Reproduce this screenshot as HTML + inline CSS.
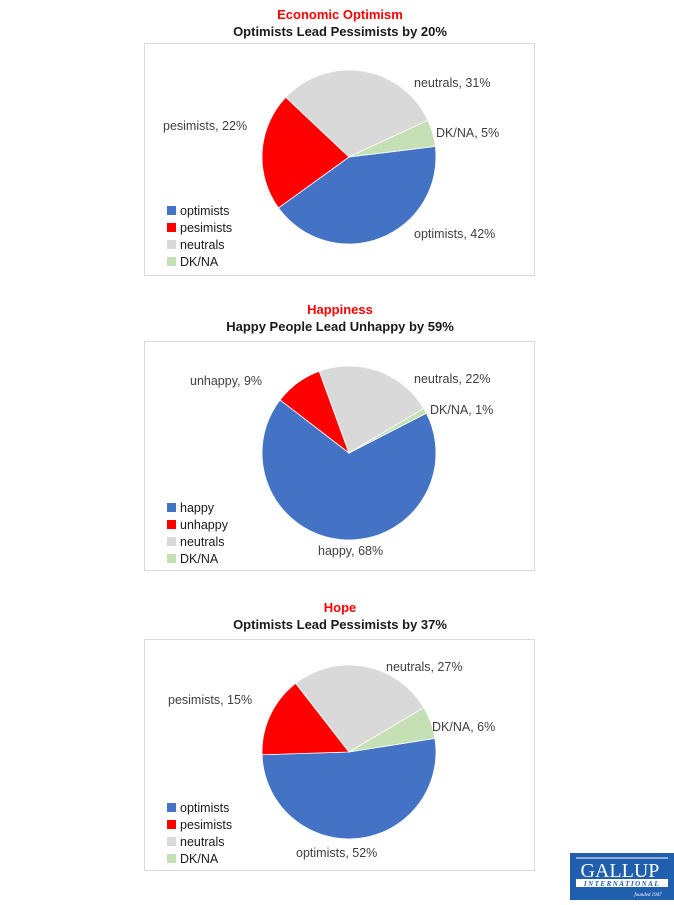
<!DOCTYPE html>
<html><head><meta charset="utf-8"><style>
body{margin:0;background:#fff;width:674px;height:900px;overflow:hidden}
svg text{font-family:"Liberation Sans",sans-serif}
</style></head><body>
<svg id="s" width="674" height="900" xmlns="http://www.w3.org/2000/svg">
<g font-size="13" font-weight="bold" text-anchor="middle">
<text x="340" y="19" fill="#ff0000">Economic Optimism</text>
<text x="340" y="36" fill="#1a1a1a">Optimists Lead Pessimists by 20%</text>
<text x="340" y="314" fill="#ff0000">Happiness</text>
<text x="340" y="331" fill="#1a1a1a">Happy People Lead Unhappy by 59%</text>
<text x="340" y="612" fill="#ff0000">Hope</text>
<text x="340" y="629" fill="#1a1a1a">Optimists Lead Pessimists by 37%</text>
</g>
<rect x="144.5" y="43.5" width="390" height="232" fill="none" stroke="#d9d9d9"/>
<rect x="144.5" y="341.5" width="390" height="229" fill="none" stroke="#d9d9d9"/>
<rect x="144.5" y="639.5" width="390" height="231" fill="none" stroke="#d9d9d9"/>
<g id="pies"></g>
<g font-size="12.5" fill="#404040">
<text x="414" y="87">neutrals, 31%</text>
<text x="163" y="130">pesimists, 22%</text>
<text x="436" y="137">DK/NA, 5%</text>
<text x="414" y="238">optimists, 42%</text>
<text x="414" y="383">neutrals, 22%</text>
<text x="190" y="385">unhappy, 9%</text>
<text x="430" y="414">DK/NA, 1%</text>
<text x="318" y="555">happy, 68%</text>
<text x="386" y="671">neutrals, 27%</text>
<text x="168" y="704">pesimists, 15%</text>
<text x="432" y="731">DK/NA, 6%</text>
<text x="296" y="857">optimists, 52%</text>
</g>
<g font-size="12.5" fill="#1a1a1a">
<rect x="167" y="206" width="9" height="9" fill="#4472c4"/><text x="180" y="215">optimists</text>
<rect x="167" y="223" width="9" height="9" fill="#ff0000"/><text x="180" y="232">pesimists</text>
<rect x="167" y="240" width="9" height="9" fill="#d9d9d9"/><text x="180" y="249">neutrals</text>
<rect x="167" y="257" width="9" height="9" fill="#c5e0b4"/><text x="180" y="266">DK/NA</text>

<rect x="167" y="503" width="9" height="9" fill="#4472c4"/><text x="180" y="512">happy</text>
<rect x="167" y="520" width="9" height="9" fill="#ff0000"/><text x="180" y="529">unhappy</text>
<rect x="167" y="537" width="9" height="9" fill="#d9d9d9"/><text x="180" y="546">neutrals</text>
<rect x="167" y="554" width="9" height="9" fill="#c5e0b4"/><text x="180" y="563">DK/NA</text>

<rect x="167" y="803" width="9" height="9" fill="#4472c4"/><text x="180" y="812">optimists</text>
<rect x="167" y="820" width="9" height="9" fill="#ff0000"/><text x="180" y="829">pesimists</text>
<rect x="167" y="837" width="9" height="9" fill="#d9d9d9"/><text x="180" y="846">neutrals</text>
<rect x="167" y="854" width="9" height="9" fill="#c5e0b4"/><text x="180" y="863">DK/NA</text>
</g>
<rect x="570" y="853" width="104" height="47" fill="#1f5fae"/>
<line x1="576" y1="858" x2="668" y2="858" stroke="#fff" stroke-width="1"/>
<text x="620" y="877" font-family="Liberation Serif,serif" font-size="20" fill="#fff" text-anchor="middle" style="font-family:'Liberation Serif',serif">GALLUP</text>
<rect x="576" y="879" width="92" height="8" fill="#fff"/>
<text x="622" y="886" font-size="7" font-weight="bold" font-style="italic" fill="#1f5fae" text-anchor="middle" letter-spacing="1.5" style="font-family:'Liberation Serif',serif">INTERNATIONAL</text>
<text x="648" y="896" font-size="5" font-style="italic" fill="#fff" text-anchor="middle" style="font-family:'Liberation Serif',serif">founded 1947</text>
</svg>
<script>
var cols=["#4472c4","#ff0000","#d9d9d9","#c5e0b4"];
var pies=[[349,157,87,83,[42,22,31,5]],[349,453,87,62.8,[68,9,22,1]],[349,752,87,81,[52,15,27,6]]];
var g=document.getElementById("pies"),h="";
pies.forEach(function(p){var a=p[3];p[4].forEach(function(v,i){var b=a+v*3.6;
function pt(t){t=t*Math.PI/180;return (p[0]+p[2]*Math.sin(t)).toFixed(2)+","+(p[1]-p[2]*Math.cos(t)).toFixed(2);}
h+='<path d="M'+p[0]+','+p[1]+' L'+pt(a)+' A'+p[2]+','+p[2]+' 0 '+(v*3.6>180?1:0)+' 1 '+pt(b)+' Z" fill="'+cols[i]+'" stroke="#fff" stroke-width="0.8"/>';a=b;});});
g.innerHTML=h;
</script>
</body></html>
